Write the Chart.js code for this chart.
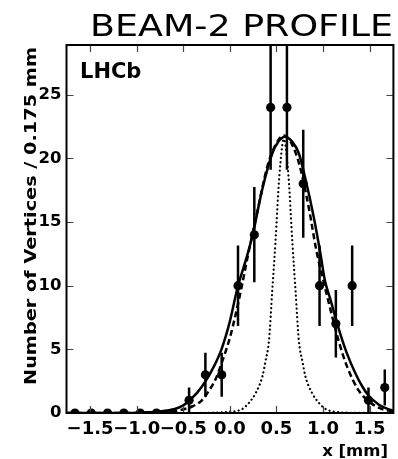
<!DOCTYPE html>
<html>
<head>
<meta charset="utf-8">
<script src="https://cdn.jsdelivr.net/npm/chart.js@4.4.1/dist/chart.umd.min.js"></script>
<style>
  html, body { margin: 0; padding: 0; background: white; }
</style>
</head>
<body>
<canvas id="beamCanvas" width="398" height="459"></canvas>
<script>
// bin centres (mm) and vertex counts, bins of 0.175 mm
const binX = [-1.6625, -1.4875, -1.3125, -1.1375, -0.9625, -0.7875, -0.6125, -0.4375, -0.2625, -0.0875,
              0.0875, 0.2625, 0.4375, 0.6125, 0.7875, 0.9625, 1.1375, 1.3125, 1.4875, 1.6625];
const counts = [0, 0, 0, 0, 0, 0, 0, 1, 3, 3, 10, 14, 24, 24, 18, 10, 7, 10, 1, 2];
const errors = [0, 0, 0, 0, 0, 0, 0, 1, 1.73, 1.73, 3.16, 3.74, 4.9, 4.9, 4.24, 3.16, 2.65, 3.16, 1, 1.41];

// full fit (solid line)
const fitX = [-1.75, -1.1, -0.9, -0.75, -0.6, -0.5, -0.44, -0.35, -0.26, -0.175, -0.09, 0.0, 0.081, 0.171, 0.242,
              0.349, 0.456, 0.52, 0.59, 0.67, 0.74, 0.82, 0.9, 0.97, 1.02, 1.08, 1.144, 1.25, 1.348, 1.42, 1.49,
              1.6, 1.7, 1.76];
const fitY = [0, 0, 0.05, 0.12, 0.3, 0.6, 0.95, 1.6, 2.5, 3.6, 5.0, 7.2, 9.8, 12.0, 13.9,
              17.6, 20.4, 21.3, 21.7, 21.3, 20.4, 18.1, 15.4, 12.6, 10.4, 8.9, 7.2, 4.8, 3.1, 2.1, 1.35,
              0.65, 0.3, 0.18];

// beam shape (dashed line)
const beamX = [-1.75, -0.9, -0.7, -0.55, -0.4, -0.3, -0.22, -0.15, -0.08, 0.0, 0.064, 0.118, 0.2, 0.3, 0.4,
               0.5, 0.58, 0.66, 0.75, 0.85, 0.93, 0.99, 1.06, 1.17, 1.26, 1.38, 1.52, 1.62, 1.76];
const beamY = [0, 0, 0.05, 0.2, 0.53, 1.0, 1.8, 2.7, 4.1, 5.9, 7.8, 9.6, 12.6, 16.0, 19.3,
               21.2, 21.8, 21.2, 19.4, 16.0, 12.7, 10.8, 8.7, 5.6, 3.6, 1.8, 0.75, 0.35, 0.1];

// vertex resolution (dotted line)
const resX = [-1.75, -0.5, -0.2, 0.0, 0.13, 0.205, 0.28, 0.35, 0.38, 0.42, 0.455, 0.49, 0.53, 0.58,
              0.63, 0.67, 0.705, 0.74, 0.78, 0.81, 0.88, 0.955, 1.03, 1.13, 1.28, 1.76];
const resY = [0, 0, 0.02, 0.1, 0.3, 0.8, 1.6, 2.9, 4.0, 5.7, 9.6, 13.5, 18.5, 21.5,
              18.5, 13.5, 9.6, 5.7, 4.0, 2.9, 1.6, 0.8, 0.3, 0.1, 0.02, 0];

const xTicks = [-1.5, -1.0, -0.5, 0.0, 0.5, 1.0, 1.5];

const toPoints = (xs, ys) => xs.map((v, i) => ({x: v, y: ys[i]}));

// error bars on the data points
const errorBars = {
  id: 'errorBars',
  beforeDatasetsDraw(chart) {
    const {ctx, chartArea: a, scales: {x, y}} = chart;
    ctx.save();
    ctx.beginPath();
    ctx.rect(a.left, a.top, a.right - a.left, a.bottom - a.top);
    ctx.clip();
    ctx.strokeStyle = '#000';
    ctx.lineWidth = 2.5;
    ctx.beginPath();
    for (let i = 0; i < binX.length; i++) {
      if (errors[i] <= 0) continue;
      const px = x.getPixelForValue(binX[i]);
      ctx.moveTo(px, y.getPixelForValue(counts[i] - errors[i]));
      ctx.lineTo(px, y.getPixelForValue(counts[i] + errors[i]));
    }
    ctx.stroke();
    ctx.restore();
  }
};

// inward ticks on all four sides plus the box
const frameTicks = {
  id: 'frameTicks',
  afterDatasetsDraw(chart) {
    const {ctx, chartArea: a, scales: {x, y}} = chart;
    const len = 7;
    ctx.save();
    ctx.strokeStyle = '#444';
    ctx.lineWidth = 1.2;
    ctx.beginPath();
    x.ticks.forEach(t => {
      const px = Math.round(x.getPixelForValue(t.value)) + 0.5;
      ctx.moveTo(px, a.bottom); ctx.lineTo(px, a.bottom - len);
      ctx.moveTo(px, a.top); ctx.lineTo(px, a.top + len);
    });
    y.ticks.forEach(t => {
      const py = Math.round(y.getPixelForValue(t.value)) + 0.5;
      ctx.moveTo(a.left, py); ctx.lineTo(a.left + len, py);
      ctx.moveTo(a.right, py); ctx.lineTo(a.right - len, py);
    });
    ctx.stroke();
    ctx.strokeStyle = '#000';
    ctx.lineWidth = 2;
    ctx.strokeRect(a.left, a.top, a.right - a.left, a.bottom - a.top);
    ctx.restore();
  }
};

// title, axis labels and LHCb tag
const labels = {
  id: 'labels',
  afterDraw(chart) {
    const ctx = chart.ctx;
    ctx.save();
    ctx.fillStyle = '#000';

    ctx.font = '30px "DejaVu Sans"';
    ctx.textAlign = 'right';
    ctx.textBaseline = 'alphabetic';
    let w = ctx.measureText('BEAM-2 PROFILE').width;
    ctx.save();
    ctx.translate(393, 36);
    ctx.scale(303 / w, 1);
    ctx.fillText('BEAM-2 PROFILE', 0, 0);
    ctx.restore();

    ctx.font = 'bold 21px "DejaVu Sans"';
    ctx.textAlign = 'left';
    ctx.fillText('LHCb', 80, 78);

    ctx.font = 'bold 16.5px "DejaVu Sans"';
    ctx.textAlign = 'right';
    ctx.fillText('x [mm]', 388, 456);

    ctx.font = 'bold 16px "DejaVu Sans"';
    ctx.textAlign = 'left';
    w = ctx.measureText('Number of Vertices / 0.175 mm').width;
    ctx.save();
    ctx.translate(36, 385);
    ctx.rotate(-Math.PI / 2);
    ctx.scale(338 / w, 1);
    ctx.fillText('Number of Vertices / 0.175 mm', 0, 0);
    ctx.restore();

    ctx.restore();
  }
};

Chart.defaults.font.family = '"DejaVu Sans"';
Chart.defaults.color = '#000';

const data = {
  datasets: [
    {
      label: 'data',
      data: toPoints(binX, counts),
      showLine: false,
      pointRadius: 4.6,
      pointBackgroundColor: '#000',
      pointBorderColor: '#000',
      pointBorderWidth: 0,
      clip: 0
    },
    {
      label: 'fit',
      data: toPoints(fitX, fitY),
      showLine: true,
      borderColor: '#000',
      borderWidth: 2.5,
      pointRadius: 0,
      cubicInterpolationMode: 'monotone',
      clip: 0
    },
    {
      label: 'beam',
      data: toPoints(beamX, beamY),
      showLine: true,
      borderColor: '#000',
      borderWidth: 2.5,
      borderDash: [6, 3.5],
      pointRadius: 0,
      cubicInterpolationMode: 'monotone',
      clip: 0
    },
    {
      label: 'resolution',
      data: toPoints(resX, resY),
      showLine: true,
      borderColor: '#000',
      borderWidth: 2.2,
      borderDash: [0.1, 4.2],
      borderCapStyle: 'round',
      pointRadius: 0,
      cubicInterpolationMode: 'monotone',
      clip: 0
    }
  ]
};

const options = {
  responsive: false,
  animation: false,
  layout: { padding: { top: 45, right: 3.5, left: 0, bottom: 0 } },
  plugins: {
    legend: { display: false },
    tooltip: { enabled: false },
    title: { display: false }
  },
  scales: {
    x: {
      type: 'linear',
      min: -1.753,
      max: 1.755,
      afterFit: (scale) => { scale.height = 46; },
      afterBuildTicks: (scale) => { scale.ticks = xTicks.map(v => ({value: v})); },
      grid: { display: false, drawTicks: false },
      border: { display: false },
      ticks: {
        autoSkip: false,
        maxRotation: 0,
        padding: 6,
        font: { size: 18, weight: 'bold' },
        callback: (v) => Number(v).toFixed(1).replace('-', '\u2212')
      }
    },
    y: {
      type: 'linear',
      min: 0,
      max: 28.9,
      afterFit: (scale) => { scale.width = 66.5; },
      grid: { display: false, drawTicks: false },
      border: { display: false },
      ticks: {
        stepSize: 5,
        includeBounds: false,
        padding: 5,
        font: { size: 16.5, weight: 'bold' }
      }
    }
  }
};

new Chart(document.getElementById('beamCanvas'), {
  type: 'scatter',
  data: data,
  options: options,
  plugins: [errorBars, frameTicks, labels]
});
</script>
</body>
</html>
